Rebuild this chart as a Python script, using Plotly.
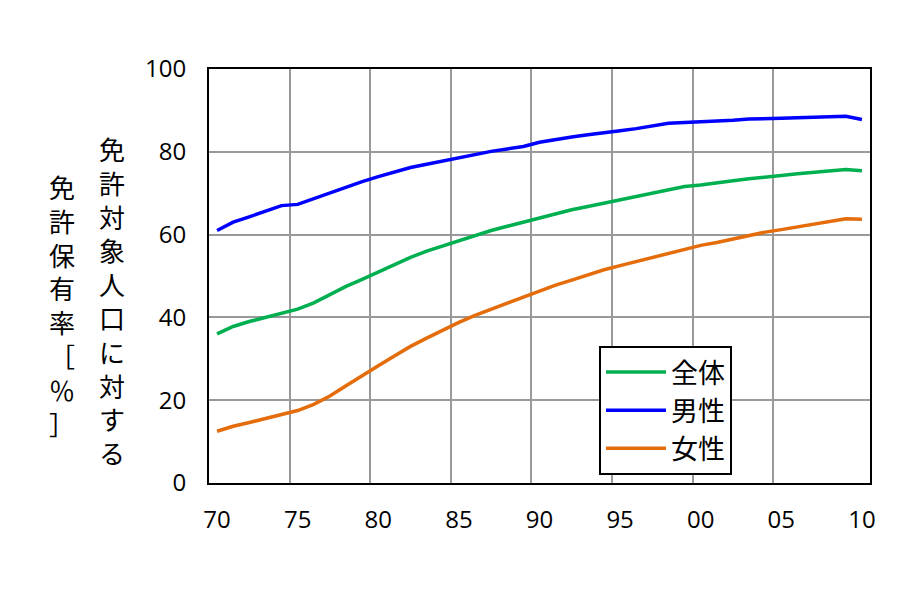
import plotly.graph_objects as go

years = list(range(1970, 2011))
tick_labels = ["70","75","80","85","90","95","00","05","10"]
total = [36,37.8,39,40,41,42,43.5,45.5,47.5,49.2,51,52.8,54.5,56,57.3,58.5,59.8,61,62,63,64.2,65.2,66,66.8,67.6,68.4,69.2,70,71,71.6,72,72.4,73,73.5,74,74.3,74.7,75,75.4,75.7,75.4]
male = [61,63,64.3,65.6,67,67.3,68.7,70,71.6,72.8,74,75.2,76.2,77,77.8,78.5,79.3,80.1,80.7,81.3,82.3,83,83.6,84.1,84.7,85.1,85.6,86.2,86.9,87.1,87.2,87.3,87.6,87.9,88.1,88.1,88.2,88.3,88.4,88.6,87.8]
female = [12.5,13.7,14.6,15.5,16.6,17.5,19,21,23.5,26,28.3,30.7,33,35,37,38.8,40.5,42,43.5,45,46.5,47.8,49,50.3,51.5,52.5,53.5,54.6,55.6,56.5,57.4,58.1,59,59.8,60.6,61.2,61.8,62.5,63.2,63.8,63.7]
names = ["全体", "男性", "女性"]
colors = ["#00B050", "#0000FF", "#E46C0A"]

fig = go.Figure()
for n, s, c in zip(names, [total, male, female], colors):
    fig.add_trace(go.Scatter(x=years, y=s, name=n, mode="lines", line=dict(color=c, width=3.5)))

L, R, T, B = 201, 38, 61, 125
W = 900 - L - R
H = 600 - T - B
font = "Noto Sans CJK JP"
fig.update_layout(
    width=900, height=600, plot_bgcolor="white", paper_bgcolor="white",
    margin=dict(l=L, r=R, t=T, b=B),
    font=dict(family=font, size=24, color="black"),
    showlegend=True,
    legend=dict(x=(591 - L) / W, y=(600 - B - 8 - 467 + 8) / H + 0.0, xanchor="left", yanchor="bottom",
                bordercolor="black", borderwidth=2, font=dict(size=27), bgcolor="white",
                itemwidth=60, tracegroupgap=0, entrywidth=170),
    xaxis=dict(range=[1969.5, 2010.5], tickvals=list(range(1970, 2011, 5)), ticktext=tick_labels,
               showgrid=False, ticks="", showline=True, linecolor="black", linewidth=2, mirror=True,
               minor=dict(tickvals=[1974.5+5*i for i in range(7)], showgrid=True, gridcolor="#999999", gridwidth=1.5),
               tickfont=dict(family="Open Sans", size=24), ticklabelstandoff=14),
    yaxis=dict(range=[0, 100], dtick=20, showgrid=True, gridcolor="#999999", gridwidth=1.5,
               showline=True, linecolor="black", linewidth=2, mirror=True, ticks="",
               tickfont=dict(family="Open Sans", size=24), ticklabelstandoff=16),
)
fig.add_annotation(text="<br>".join("免許対象人口に対する"), x=(89 - L) / W, y=(481 - 6 - 292) / H,
                   xref="paper", yref="paper", showarrow=False, font=dict(size=26))
fig.add_annotation(text="<br>".join("免許保有率［％］"), x=(39 - L) / W, y=(481 - 6 - 297) / H,
                   xref="paper", yref="paper", showarrow=False, font=dict(size=26))
fig.write_html("out.html")
